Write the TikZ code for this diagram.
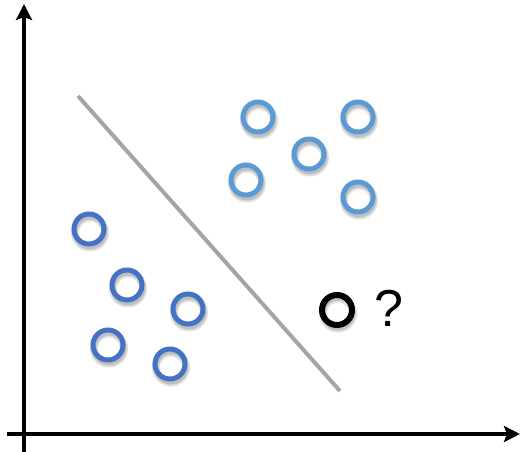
\documentclass[tikz,border=0pt]{standalone}
\usepackage{fontspec}
\setmainfont{Liberation Sans}
\usetikzlibrary{arrows.meta,shadows}
\definecolor{lightblue}{HTML}{5B9BD5}
\definecolor{darkblue}{HTML}{4472C4}
\definecolor{sepgray}{HTML}{A5A5A5}
\tikzset{
  pt/.style={circle, draw, line width=5pt, minimum size=30pt, inner sep=0pt,
    drop shadow={shadow xshift=1pt, shadow yshift=-3.5pt, opacity=0.12, fill=none, draw=black, line width=8pt},
    drop shadow={shadow xshift=1pt, shadow yshift=-3pt, opacity=0.15, fill=none, draw=black, line width=5pt}},
  lb/.style={pt, draw=lightblue},
  db/.style={pt, draw=darkblue},
  bk/.style={pt, draw=black, line width=6pt},
  axis/.style={line width=3.8pt, -{Stealth[length=16pt,width=16pt,inset=3pt]}},
}
\begin{document}
\begin{tikzpicture}[x=1pt,y=-1pt]
\useasboundingbox (0,0) rectangle (520,452);
\coordinate (ybot) at (24,452);
\coordinate (ytop) at (24,4);
\coordinate (xleft) at (7,434);
\coordinate (xright) at (520,434);
\draw[axis] (ybot) -- (ytop);
\draw[axis] (xleft) -- (xright);
\coordinate (s1) at (78,96);
\coordinate (s2) at (340,391);
\draw[sepgray, line width=4pt] (s1) -- (s2);
\node[lb] (l1) at (258,117) {};
\node[lb] (l2) at (358,117) {};
\node[lb] (l3) at (309,154) {};
\node[lb] (l4) at (246,180) {};
\node[lb] (l5) at (358,197) {};
\node[db] (d1) at (89,229) {};
\node[db] (d2) at (127,285) {};
\node[db] (d3) at (188,309) {};
\node[db] (d4) at (108,345) {};
\node[db] (d5) at (170,364) {};
\node[bk] (q) at (337,310) {};
\node[font=\fontsize{52}{60}\selectfont, inner sep=0pt] (qm) at (389,308) {?};
\end{tikzpicture}
\end{document}
